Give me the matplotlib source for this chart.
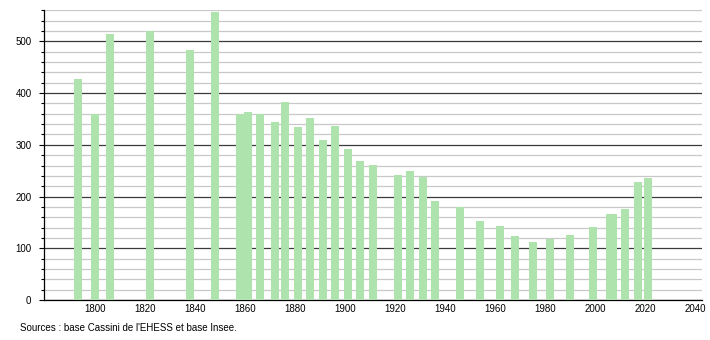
import matplotlib
matplotlib.use("Agg")
import matplotlib.pyplot as plt
from matplotlib.ticker import MultipleLocator

# Census years and population
years = [1793, 1800, 1806, 1822, 1838, 1848, 1858, 1861, 1866, 1872,
         1876, 1881, 1886, 1891, 1896, 1901, 1906, 1911, 1921, 1926,
         1931, 1936, 1946, 1954, 1962, 1968, 1975, 1982, 1990, 1999,
         2006, 2007, 2012, 2017, 2021]
population = [427, 360, 515, 521, 483, 557, 360, 363, 360, 345,
              382, 334, 351, 310, 336, 291, 268, 261, 241, 250,
              237, 192, 180, 152, 144, 124, 113, 117, 126, 142,
              166, 167, 175, 229, 235]

x_ticks = list(range(1800, 2041, 20))
source_text = "Sources : base Cassini de l'EHESS et base Insee."

BAR_COLOR = "#aee3ae"

plt.rcParams["font.family"] = ["Liberation Sans", "DejaVu Sans"]

fig = plt.figure(figsize=(7.1, 3.4), dpi=100)
ax = fig.add_axes([0.0615, 0.1176, 0.9272, 0.852])

ax.bar(years, population, width=3.2, color=BAR_COLOR, linewidth=0, zorder=3)

ax.set_xlim(1779.3, 2042.6)
ax.set_ylim(0, 560)

ax.yaxis.set_major_locator(MultipleLocator(100))
ax.yaxis.set_minor_locator(MultipleLocator(20))
ax.set_xticks(x_ticks)

ax.grid(which="minor", axis="y", color="#c8c8c8", linewidth=0.9, zorder=1)
ax.grid(which="major", axis="y", color="#3a3a3a", linewidth=0.9, zorder=2)
ax.set_axisbelow(True)

for side in ("top", "right"):
    ax.spines[side].set_visible(False)
ax.spines["left"].set_linewidth(0.9)
ax.spines["bottom"].set_linewidth(0.9)

ax.tick_params(axis="y", which="major", length=3.3, width=0.8, pad=5.5, labelsize=7)
ax.tick_params(axis="y", which="minor", length=2, width=0.8)
ax.tick_params(axis="x", which="major", length=0, pad=3, labelsize=7)

fig.text(20 / 710, 1 - 328 / 340, source_text, fontsize=7, ha="left", va="center")

fig.savefig("out.png", dpi=100)
